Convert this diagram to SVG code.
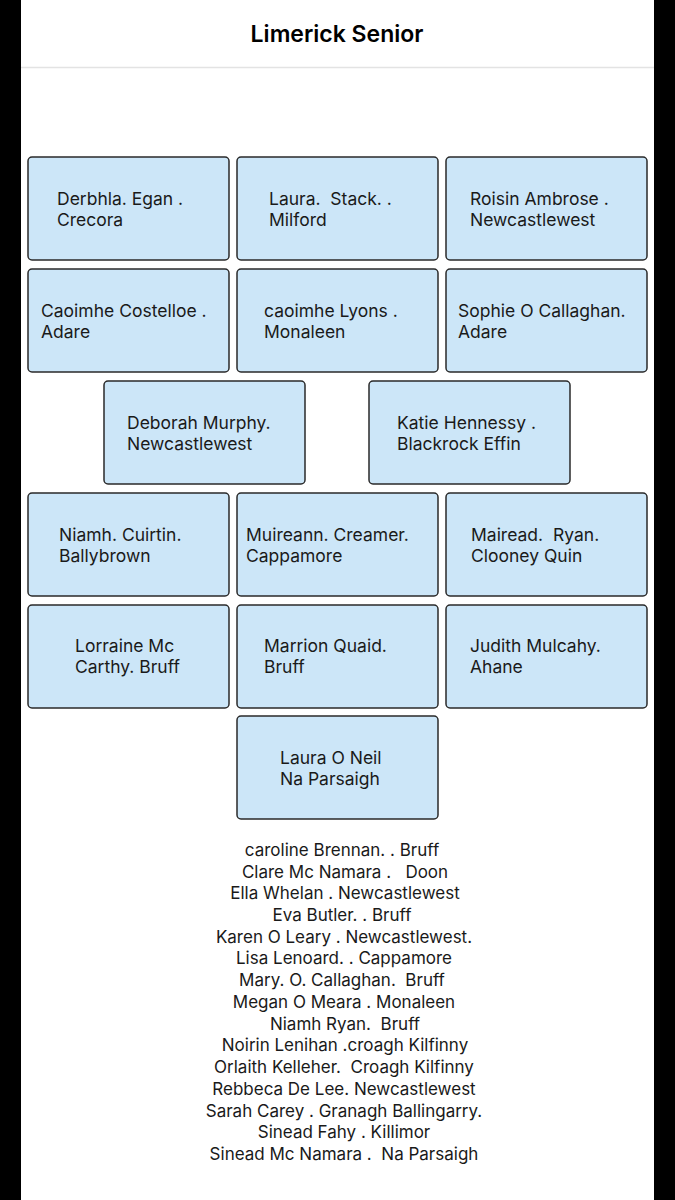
<svg xmlns="http://www.w3.org/2000/svg" width="675" height="1200" viewBox="0 0 675 1200" xml:space="preserve">
<style>
.b{fill:#cce6f8;stroke:#2a2a2a;stroke-width:1.5}
.t{font-family:"Inter","Liberation Sans",sans-serif;font-size:17.5px;fill:#1a1a1a;white-space:pre}
.l{font-family:"Inter","Liberation Sans",sans-serif;font-size:17px;fill:#1a1a1a;text-anchor:middle;white-space:pre}
</style>
<rect width="675" height="1200" fill="#fff"/>
<rect x="0" y="0" width="21" height="1200" fill="#000"/>
<rect x="654" y="0" width="21" height="1200" fill="#000"/>
<text x="337" y="42" text-anchor="middle" style="font-family:'Inter','Liberation Sans',sans-serif;font-size:23px;font-weight:600" fill="#000">Limerick Senior</text>
<line x1="21" y1="67.5" x2="654" y2="67.5" stroke="#e3e3e3" stroke-width="1.5"/>
<g id="n1"><rect class="b" x="28" y="157" width="201" height="103" rx="4"/><text class="t" x="57" y="205">Derbhla. Egan .</text><text class="t" x="57" y="226">Crecora</text></g>
<g id="n2"><rect class="b" x="237" y="157" width="201" height="103" rx="4"/><text class="t" x="269" y="205">Laura.  Stack. .</text><text class="t" x="269" y="226">Milford</text></g>
<g id="n3"><rect class="b" x="446" y="157" width="201" height="103" rx="4"/><text class="t" x="470" y="205">Roisin Ambrose .</text><text class="t" x="470" y="226">Newcastlewest</text></g>
<g id="n4"><rect class="b" x="28" y="269" width="201" height="103" rx="4"/><text class="t" x="41" y="317">Caoimhe Costelloe .</text><text class="t" x="41" y="338">Adare</text></g>
<g id="n5"><rect class="b" x="237" y="269" width="201" height="103" rx="4"/><text class="t" x="264" y="317">caoimhe Lyons .</text><text class="t" x="264" y="338">Monaleen</text></g>
<g id="n6"><rect class="b" x="446" y="269" width="201" height="103" rx="4"/><text class="t" x="458" y="317">Sophie O Callaghan.</text><text class="t" x="458" y="338">Adare</text></g>
<g id="n7"><rect class="b" x="104" y="381" width="201" height="103" rx="4"/><text class="t" x="127" y="429">Deborah Murphy.</text><text class="t" x="127" y="450">Newcastlewest</text></g>
<g id="n8"><rect class="b" x="369" y="381" width="201" height="103" rx="4"/><text class="t" x="397" y="429">Katie Hennessy .</text><text class="t" x="397" y="450">Blackrock Effin</text></g>
<g id="n9"><rect class="b" x="28" y="493" width="201" height="103" rx="4"/><text class="t" x="59" y="541">Niamh. Cuirtin.</text><text class="t" x="59" y="562">Ballybrown</text></g>
<g id="n10"><rect class="b" x="237" y="493" width="201" height="103" rx="4"/><text class="t" x="246" y="541">Muireann. Creamer.</text><text class="t" x="246" y="562">Cappamore</text></g>
<g id="n11"><rect class="b" x="446" y="493" width="201" height="103" rx="4"/><text class="t" x="471" y="541">Mairead.  Ryan.</text><text class="t" x="471" y="562">Clooney Quin</text></g>
<g id="n12"><rect class="b" x="28" y="605" width="201" height="103" rx="4"/><text class="t" x="75" y="652">Lorraine Mc</text><text class="t" x="75" y="673">Carthy. Bruff</text></g>
<g id="n13"><rect class="b" x="237" y="605" width="201" height="103" rx="4"/><text class="t" x="264" y="652">Marrion Quaid.</text><text class="t" x="264" y="673">Bruff</text></g>
<g id="n14"><rect class="b" x="446" y="605" width="201" height="103" rx="4"/><text class="t" x="470" y="652">Judith Mulcahy.</text><text class="t" x="470" y="673">Ahane</text></g>
<g id="n15"><rect class="b" x="237" y="716" width="201" height="103" rx="4"/><text class="t" x="280" y="764">Laura O Neil</text><text class="t" x="280" y="785">Na Parsaigh</text></g>
<g id="connectors"></g>
<g id="subs">
<text class="l" x="342" y="856">caroline Brennan. . Bruff</text>
<text class="l" x="345" y="878">Clare Mc Namara .   Doon</text>
<text class="l" x="345" y="899">Ella Whelan . Newcastlewest</text>
<text class="l" x="342" y="921">Eva Butler. . Bruff</text>
<text class="l" x="344" y="943">Karen O Leary . Newcastlewest.</text>
<text class="l" x="344" y="964">Lisa Lenoard. . Cappamore</text>
<text class="l" x="342" y="986">Mary. O. Callaghan.  Bruff</text>
<text class="l" x="344" y="1008">Megan O Meara . Monaleen</text>
<text class="l" x="345" y="1030">Niamh Ryan.  Bruff</text>
<text class="l" x="345" y="1051">Noirin Lenihan .croagh Kilfinny</text>
<text class="l" x="344" y="1073">Orlaith Kelleher.  Croagh Kilfinny</text>
<text class="l" x="344" y="1095">Rebbeca De Lee. Newcastlewest</text>
<text class="l" x="344" y="1117">Sarah Carey . Granagh Ballingarry.</text>
<text class="l" x="344" y="1138">Sinead Fahy . Killimor</text>
<text class="l" x="344" y="1160">Sinead Mc Namara .  Na Parsaigh</text>
</g>
</svg>
